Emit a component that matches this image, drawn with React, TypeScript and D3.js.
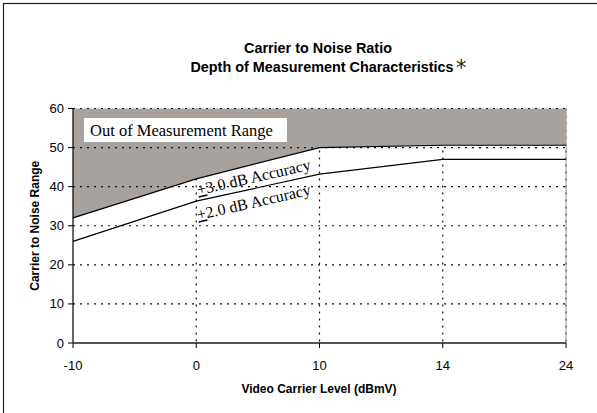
import React from "react";
import * as d3 from "d3";

const levels = ["-10", "0", "10", "14", "24"];
const upperLimit = [32, 42, 50, 50.6, 50.6];
const lowerLimit = [26, 36.3, 43.2, 47, 47];
const yTicks = [0, 10, 20, 30, 40, 50, 60];

const W = 597;
const H = 413;
const margin = { top: 108.5, right: 31, bottom: 70, left: 73 };

const App: React.FC = () => {
  const x = d3
    .scalePoint<string>()
    .domain(levels)
    .range([margin.left, W - margin.right]);
  const y = d3
    .scaleLinear()
    .domain([0, 60])
    .range([H - margin.bottom, margin.top]);

  const rows = levels.map((l, i) => ({ l, up: upperLimit[i], lo: lowerLimit[i] }));

  const area = d3
    .area<(typeof rows)[0]>()
    .x((d) => x(d.l)!)
    .y0(y(60))
    .y1((d) => y(d.up));
  const upperLine = d3
    .line<(typeof rows)[0]>()
    .x((d) => x(d.l)!)
    .y((d) => y(d.up));
  const lowerLine = d3
    .line<(typeof rows)[0]>()
    .x((d) => x(d.l)!)
    .y((d) => y(d.lo));

  const x0 = x(levels[0])!;
  const x1 = x(levels[levels.length - 1])!;
  const serif = "'Liberation Serif', 'Times New Roman', serif";
  const sans = "'Liberation Sans', Arial, sans-serif";
  const angle = -12.8;

  return (
    <svg width={W} height={H} style={{ position: "absolute", left: 0, top: 0 }}>
      <rect x={0} y={0} width={W} height={H} fill="#fff" />
      <rect x={3.5} y={3.5} width={W + 10} height={H + 10} fill="none" stroke="#222" strokeWidth={1.2} />

      {/* title */}
      <text x={318} y={53} textAnchor="middle" fontFamily={sans} fontWeight="bold" fontSize={14.4}>
        Carrier to Noise Ratio
      </text>
      <text x={322} y={72} textAnchor="middle" fontFamily={sans} fontWeight="bold" fontSize={14.4}>
        Depth of Measurement Characteristics
      </text>
      <text x={456} y={75} fontFamily="'DejaVu Sans', sans-serif" fontSize={21} fill="#222">
        *
      </text>

      {/* vertical grid */}
      {levels.slice(1).map((l) => (
        <line key={l} x1={x(l)} x2={x(l)} y1={y(60)} y2={y(0)} stroke="#111" strokeWidth={1.2} strokeDasharray="2 5" />
      ))}
      <line x1={x1} x2={x1} y1={y(60)} y2={y(0)} stroke="#999" strokeWidth={1} />

      {/* out of range region */}
      <path d={area(rows)!} fill="#a8a29e" />

      {/* horizontal grid */}
      {yTicks.slice(1).map((t) => (
        <line key={t} x1={x0} x2={x1} y1={y(t)} y2={y(t)} stroke="#111" strokeWidth={1.2} strokeDasharray="2 5" />
      ))}

      <path d={upperLine(rows)!} fill="none" stroke="#000" strokeWidth={1.2} />
      <path d={lowerLine(rows)!} fill="none" stroke="#000" strokeWidth={1.2} />

      {/* axes */}
      <line x1={x0} x2={x0} y1={y(60)} y2={y(0)} stroke="#000" strokeWidth={1.2} />
      {yTicks.map((t) => (
        <g key={t}>
          <line x1={x0 - 5} x2={x0} y1={y(t)} y2={y(t)} stroke="#000" />
          <text x={x0 - 9} y={y(t) + 4.5} textAnchor="end" fontFamily={sans} fontSize={13}>
            {t}
          </text>
        </g>
      ))}
      <line x1={x0} x2={x1} y1={y(0)} y2={y(0)} stroke="#555" strokeWidth={2} />
      {levels.map((l) => (
        <g key={l}>
          <line x1={x(l)} x2={x(l)} y1={y(0)} y2={y(0) + 5} stroke="#000" />
          <text x={x(l)} y={y(0) + 27} textAnchor="middle" fontFamily={sans} fontSize={13}>
            {l}
          </text>
        </g>
      ))}

      <text x={319} y={393} textAnchor="middle" fontFamily={sans} fontWeight="bold" fontSize={12}>
        Video Carrier Level (dBmV)
      </text>
      <text
        transform={`translate(39, ${y(30)}) rotate(-90)`}
        textAnchor="middle"
        fontFamily={sans}
        fontWeight="bold"
        fontSize={12}
      >
        Carrier to Noise Range
      </text>

      {/* annotations */}
      <rect x={84} y={118} width={203} height={24} fill="#fff" />
      <text x={90} y={136} fontFamily={serif} fontSize={16.5}>
        Out of Measurement Range
      </text>
      <text
        transform={`translate(${x("0")! + 2}, ${y(37.8)}) rotate(${angle})`}
        fontFamily={serif}
        fontSize={16}
      >
        <tspan textDecoration="underline">+</tspan>3.0 dB Accuracy
      </text>
      <text
        transform={`translate(${x("0")! + 2}, ${y(31.4)}) rotate(${angle})`}
        fontFamily={serif}
        fontSize={16}
      >
        <tspan textDecoration="underline">+</tspan>2.0 dB Accuracy
      </text>
    </svg>
  );
};

export default App;
